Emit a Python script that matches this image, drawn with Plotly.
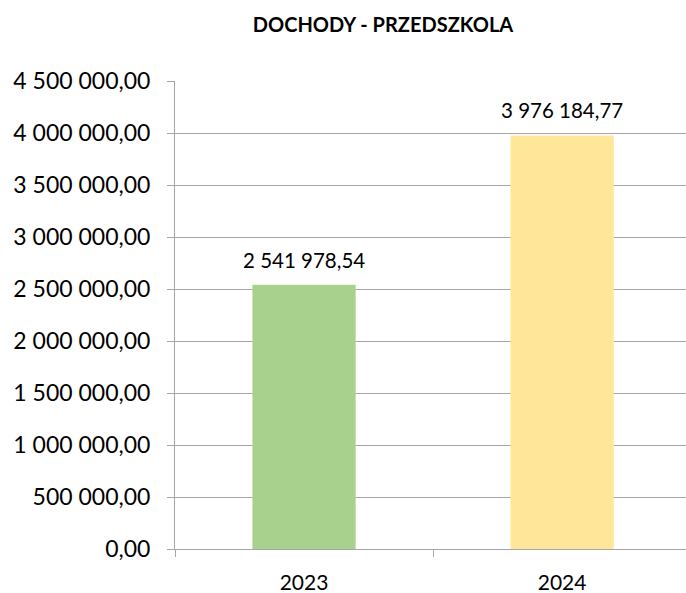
import plotly.graph_objects as go

categories = ["2023", "2024"]
values = [2541978.54, 3976184.77]
colors = ["#A9D18E", "#FFE699"]
tick_values = [0, 500000, 1000000, 1500000, 2000000, 2500000, 3000000, 3500000, 4000000, 4500000]


def fmt(v):
    s = f"{v:,.2f}"
    return s.replace(",", " ").replace(".", ",")


tick_text = [fmt(v) for v in tick_values]
labels = [fmt(v) for v in values]

fig = go.Figure(
    go.Bar(
        x=categories,
        y=values,
        marker=dict(color=colors, line=dict(width=0)),
        width=0.4,
    )
)

for i, (v, t) in enumerate(zip(values, labels)):
    fig.add_annotation(
        x=i, y=v, text=t, showarrow=False,
        xref="x", yref="y", xanchor="center", yanchor="bottom", yshift=11,
        font=dict(family="Lato", size=20.5, color="#000000"),
    )

fig.update_layout(
    width=686,
    height=593,
    margin=dict(l=175, r=0, t=81, b=44, autoexpand=False),
    paper_bgcolor="white",
    plot_bgcolor="white",
    font=dict(family="Lato", color="#000000"),
    showlegend=False,
    title=dict(
        text="<b>DOCHODY - PRZEDSZKOLA</b>",
        font=dict(family="Lato", size=20, color="#000000"),
        xref="paper",
        x=0.407,
        xanchor="center",
        yref="container",
        y=0.958,
        yanchor="middle",
        automargin=False,
    ),
    xaxis=dict(
        type="category",
        range=[-0.5, 1.48],
        automargin=False,
        tickson="boundaries",
        ticks="outside",
        ticklen=7,
        tickcolor="#A6A6A6",
        showgrid=False,
        showline=True,
        linecolor="#A6A6A6",
        linewidth=1,
        tickfont=dict(family="Lato", size=21, color="#000000"),
        ticklabelstandoff=15,
    ),
    yaxis=dict(
        range=[0, 4500000],
        automargin=False,
        tickvals=tick_values,
        ticktext=tick_text,
        ticks="outside",
        ticklen=7,
        tickcolor="#A6A6A6",
        showgrid=True,
        gridcolor="#A6A6A6",
        gridwidth=1,
        showline=True,
        linecolor="#A6A6A6",
        linewidth=1,
        zeroline=False,
        tickfont=dict(family="Lato", size=23, color="#000000"),
        ticklabelstandoff=12,
    ),
)

fig.write_html(
    "out.html",
    config={"displayModeBar": False, "staticPlot": True},
    post_script="document.body.style.margin='0';document.body.style.overflow='hidden';",
)
